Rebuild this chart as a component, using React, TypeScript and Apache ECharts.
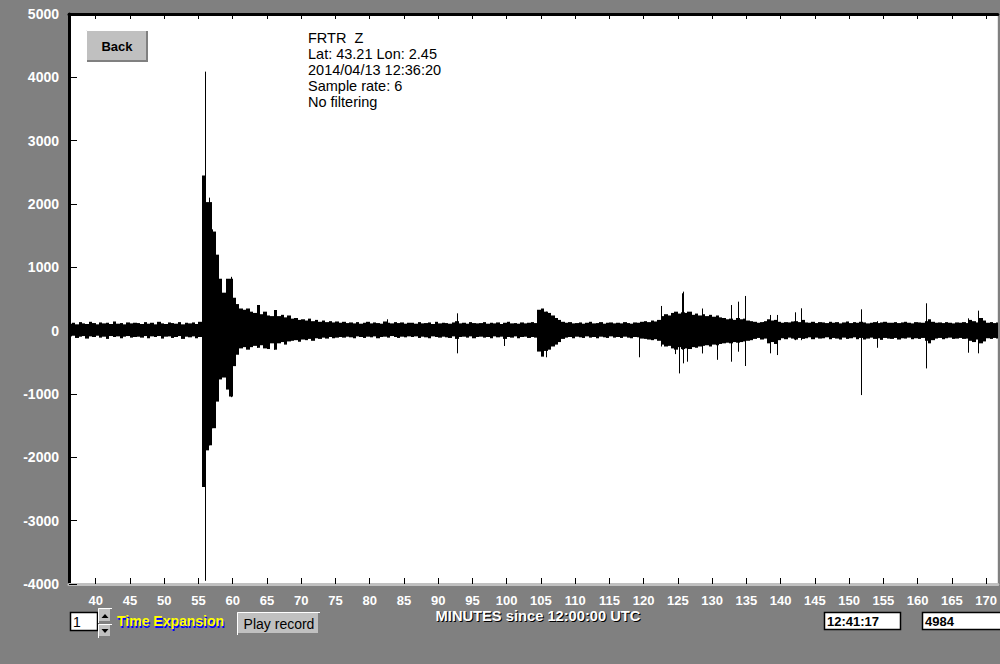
import React, { useEffect, useRef } from "react";
import * as echarts from "echarts";

// X axis: minutes since 12:00:00 UTC
const xTicks = [40, 45, 50, 55, 60, 65, 70, 75, 80, 85, 90, 95, 100, 105, 110, 115, 120, 125, 130, 135, 140, 145, 150, 155, 160, 165, 170];
const xMin = 36.11;
const xMax = 171.7;
const yMin = -4000;
const yMax = 5000;
const yStep = 1000;

// Trace envelope, read per half-minute bin (max / min counts in each bin)
const binStart = 36.0;
const binStep = 0.5;
const hi36 = [110, 125, 100, 135, 115, 105, 140, 120, 100, 130, 115, 125, 105, 145, 110, 120, 100, 130, 115, 125];
const lo36 = [-90, -80, -115, -95, -85, -125, -90, -100, -80, -110, -95, -130, -85, -100, -90, -120, -95, -85, -110, -100];
const hi46 = [120, 105, 135, 110, 125, 100, 140, 115, 105, 130, 120, 110, 135, 100, 125, 115, 130, 105, 140, 2450];
const lo46 = [-95, -110, -85, -120, -90, -100, -85, -125, -95, -90, -115, -100, -85, -130, -95, -105, -90, -120, -100, -2470];
const hi56 = [2030, 2030, 1565, 1200, 820, 600, 820, 820, 520, 420, 350, 330, 350, 300, 280, 405, 260, 300, 240, 230];
const lo56 = [-1890, -1810, -1540, -1120, -770, -740, -930, -1040, -560, -380, -280, -260, -300, -260, -240, -270, -230, -280, -290, -200];
const hi66 = [326, 230, 250, 210, 240, 190, 200, 170, 180, 160, 190, 150, 170, 140, 160, 135, 150, 130, 145, 125];
const lo66 = [-300, -200, -180, -220, -170, -160, -150, -175, -140, -150, -130, -160, -120, -130, -110, -125, -100, -120, -110, -100];
const hi76 = [140, 120, 130, 115, 135, 110, 125, 140, 115, 130, 120, 110, 145, 125, 115, 135, 120, 130, 110, 125];
const lo76 = [-110, -95, -105, -120, -90, -100, -115, -95, -105, -90, -120, -100, -95, -110, -85, -100, -115, -95, -105, -90];
const hi86 = [125, 110, 135, 115, 120, 130, 105, 140, 115, 125, 120, 110, 130, 150, 115, 125, 110, 135, 120, 115];
const lo86 = [-100, -90, -115, -95, -105, -120, -90, -100, -110, -95, -105, -115, -90, -130, -100, -95, -110, -90, -120, -100];
const hi96 = [120, 135, 110, 125, 115, 130, 105, 125, 140, 115, 120, 110, 130, 115, 125, 135, 120, 330, 350, 300];
const lo96 = [-95, -110, -100, -120, -90, -105, -95, -130, -100, -110, -90, -120, -100, -95, -115, -100, -110, -330, -410, -320];
const hi106 = [280, 240, 200, 170, 140, 125, 135, 115, 120, 130, 110, 125, 140, 115, 120, 135, 110, 125, 130, 115];
const lo106 = [-300, -250, -220, -180, -130, -110, -100, -120, -95, -105, -115, -90, -110, -100, -120, -95, -105, -115, -90, -110];
const hi116 = [125, 115, 135, 120, 110, 130, 125, 140, 150, 135, 160, 145, 170, 230, 260, 240, 280, 300, 270, 290];
const lo116 = [-100, -115, -95, -110, -120, -100, -105, -125, -130, -140, -150, -135, -160, -220, -250, -240, -280, -300, -260, -290];
const hi126 = [280, 300, 250, 270, 240, 260, 230, 250, 220, 240, 210, 200, 180, 190, 170, 200, 180, 190, 160, 150];
const lo126 = [-280, -290, -260, -270, -250, -240, -230, -250, -220, -230, -210, -200, -190, -200, -180, -190, -180, -170, -160, -150];
const hi136 = [140, 125, 135, 150, 180, 160, 170, 140, 125, 135, 130, 145, 150, 135, 170, 130, 125, 140, 120, 135];
const lo136 = [-130, -115, -140, -125, -200, -180, -210, -150, -120, -135, -110, -125, -140, -115, -130, -120, -105, -135, -110, -125];
const hi146 = [130, 120, 140, 125, 135, 115, 130, 145, 120, 135, 125, 140, 130, 115, 125, 135, 120, 130, 140, 125];
const lo146 = [-120, -105, -135, -115, -125, -140, -110, -130, -120, -105, -135, -115, -140, -125, -110, -130, -120, -145, -115, -125];
const hi156 = [125, 135, 120, 130, 140, 125, 115, 135, 130, 125, 150, 180, 140, 125, 130, 120, 135, 125, 115, 130];
const lo156 = [-130, -115, -140, -120, -125, -110, -135, -120, -130, -115, -160, -200, -150, -125, -115, -135, -120, -110, -130, -125];
const hi166 = [125, 135, 120, 170, 150, 130, 200, 160, 125, 135, 120, 130];
const lo166 = [-115, -130, -125, -160, -180, -140, -200, -170, -120, -130, -115, -125];

// Isolated spikes: [minute, max, min]
const spikes = [
  [55.9, 4090, -3950],
  [56.6, 2100, -1810],
  [57.05, 1600, -1540],
  [59.7, 850, -1050],
  [63.5, 405, -270],
  [66.1, 326, -300],
  [82.6, 180, -100],
  [92.8, 274, -358],
  [99.6, 110, -242],
  [105.7, 300, -420],
  [119.3, 110, -420],
  [122.6, 390, -250],
  [124.6, 250, -370],
  [125.2, 250, -675],
  [125.6, 590, -300],
  [125.8, 616, -516],
  [126.3, 300, -490],
  [128.5, 350, -360],
  [130.7, 200, -460],
  [132.7, 405, -490],
  [133.8, 458, -332],
  [134.8, 548, -558],
  [138.4, 248, -358],
  [139.4, 248, -385],
  [142.1, 290, -150],
  [143.0, 353, -150],
  [151.7, 337, -1017],
  [154.0, 150, -270],
  [161.2, 432, -596],
  [167.3, 195, -348],
  [168.8, 316, -358],
];

const infoLines = ["FRTR  Z", "Lat: 43.21 Lon: 2.45", "2014/04/13 12:36:20", "Sample rate: 6", "No filtering"];
const axisTitle = "MINUTES since 12:00:00 UTC";
const timeExpansionValue = "1";
const clockText = "12:41:17";
const counterText = "4984";

const FONT = "'Liberation Sans', Arial, sans-serif";

export default function App() {
  const ref = useRef<HTMLDivElement>(null);

  useEffect(() => {
    if (!ref.current) return;
    const chart = echarts.init(ref.current, undefined, { renderer: "svg" });

    const hiAll = [hi36, hi46, hi56, hi66, hi76, hi86, hi96, hi106, hi116, hi126, hi136, hi146, hi156, hi166].flat();
    const loAll = [lo36, lo46, lo56, lo66, lo76, lo86, lo96, lo106, lo116, lo126, lo136, lo146, lo156, lo166].flat();
    const binData = hiAll.map((h, i) => [binStart + i * binStep, h, loAll[i]]);

    const whiteLabel = {
      color: "#fff",
      fontWeight: "bold" as const,
      fontFamily: FONT,
      textShadowColor: "#000",
      textShadowOffsetX: 1,
      textShadowOffsetY: 1,
      textShadowBlur: 0,
    };

    const btn = (x: number, y: number, w: number, h: number) => [
      { type: "rect", shape: { x, y, width: w, height: h }, style: { fill: "#c0c0c0" } },
      { type: "polyline", shape: { points: [[x + 0.5, y + h], [x + 0.5, y + 0.5], [x + w, y + 0.5]] }, style: { stroke: "#fff", lineWidth: 1, fill: null } },
      { type: "polyline", shape: { points: [[x + 1, y + h - 1], [x + w - 1, y + h - 1], [x + w - 1, y + 1]] }, style: { stroke: "#808080", lineWidth: 2, fill: null } },
    ];

    const graphics: any[] = [
      // Back button
      ...btn(86, 30, 62, 32),
      { type: "text", x: 117, y: 46, style: { text: "Back", font: `bold 13px ${FONT}`, fill: "#000", textAlign: "center", textVerticalAlign: "middle" } },
      // info text
      ...infoLines.map((s, i) => ({
        type: "text", x: 308, y: 38 + i * 16,
        style: { text: s, font: `14.5px ${FONT}`, fill: "#000", textAlign: "left", textVerticalAlign: "middle" },
      })),
      // axis title
      { type: "text", x: 539, y: 617, style: { text: axisTitle, font: `bold 14.7px ${FONT}`, fill: "#000", textAlign: "center", textVerticalAlign: "middle" } },
      { type: "text", x: 538, y: 616, style: { text: axisTitle, font: `bold 14.7px ${FONT}`, fill: "#fff", textAlign: "center", textVerticalAlign: "middle" } },
      // time expansion box
      { type: "rect", shape: { x: 70.5, y: 612.5, width: 27, height: 18 }, style: { fill: "#fff", stroke: "#000", lineWidth: 1.5 } },
      { type: "text", x: 73, y: 622, style: { text: timeExpansionValue, font: `14px ${FONT}`, fill: "#000", textVerticalAlign: "middle" } },
      ...btn(98, 608, 14, 15),
      { type: "polygon", shape: { points: [[101.5, 618], [108.5, 618], [105, 614]] }, style: { fill: "#000" } },
      ...btn(98, 624, 14, 14),
      { type: "polygon", shape: { points: [[101.5, 629], [108.5, 629], [105, 633]] }, style: { fill: "#000" } },
      { type: "text", x: 118, y: 623, style: { text: "Time Expansion", font: `bold 14px ${FONT}`, fill: "#0000ff", textVerticalAlign: "middle" } },
      { type: "text", x: 117, y: 621, style: { text: "Time Expansion", font: `bold 14px ${FONT}`, fill: "#ffff00", textVerticalAlign: "middle" } },
      // play record
      ...btn(237, 612, 83, 23),
      { type: "text", x: 279, y: 624, style: { text: "Play record", font: `14px ${FONT}`, fill: "#000", textAlign: "center", textVerticalAlign: "middle" } },
      // clock box
      { type: "rect", shape: { x: 824.5, y: 612.5, width: 76, height: 17 }, style: { fill: "#fff", stroke: "#000", lineWidth: 1.5 } },
      { type: "text", x: 827, y: 621.5, style: { text: clockText, font: `bold 13px ${FONT}`, fill: "#000", textVerticalAlign: "middle" } },
      // counter box
      { type: "rect", shape: { x: 922.5, y: 612.5, width: 90, height: 17 }, style: { fill: "#fff", stroke: "#000", lineWidth: 1.5 } },
      { type: "text", x: 925, y: 621.5, style: { text: counterText, font: `bold 13px ${FONT}`, fill: "#000", textVerticalAlign: "middle" } },
    ];

    chart.setOption({
      animation: false,
      backgroundColor: "#808080",
      textStyle: { fontFamily: FONT },
      grid: { left: 69, right: 0, top: 14, bottom: 80, show: true, backgroundColor: "#fff", borderWidth: 0 },
      xAxis: [
        {
          type: "value",
          min: xMin,
          max: xMax,
          position: "bottom",
          axisLine: { show: true, onZero: false, lineStyle: { color: "#c0c0c0", width: 3 } },
          axisTick: { show: true, inside: true, length: 6, customValues: xTicks, lineStyle: { color: "#000", width: 1 } },
          axisLabel: { ...whiteLabel, fontSize: 13, margin: 10, customValues: xTicks, hideOverlap: false, formatter: (v: number) => String(v) },
          splitLine: { show: false },
        },
        {
          type: "value",
          min: xMin,
          max: xMax,
          position: "top",
          axisLine: { show: true, onZero: false, lineStyle: { color: "#000", width: 3 } },
          axisTick: { show: true, inside: true, length: 5, customValues: xTicks, lineStyle: { color: "#000", width: 1 } },
          axisLabel: { show: false },
          splitLine: { show: false },
        },
      ],
      yAxis: {
        type: "value",
        min: yMin,
        max: yMax,
        interval: yStep,
        axisLine: { show: true, onZero: false, lineStyle: { color: "#000", width: 3 } },
        axisTick: { show: true, inside: true, length: 8, lineStyle: { color: "#000", width: 1 } },
        axisLabel: { ...whiteLabel, fontSize: 14, margin: 10, formatter: (v: number) => String(v) },
        splitLine: { show: false },
      },
      series: [
        {
          type: "custom",
          name: "envelope",
          xAxisIndex: 0,
          clip: true,
          data: binData,
          encode: { x: 0, y: [1, 2] },
          renderItem: (_p: any, api: any) => {
            const t = api.value(0);
            const a = api.coord([t, api.value(1)]);
            const b = api.coord([t + binStep, api.value(2)]);
            const x0 = Math.round(a[0]);
            const x1 = Math.round(b[0]);
            return {
              type: "rect",
              shape: { x: x0, y: a[1], width: Math.max(1, x1 - x0), height: b[1] - a[1] },
              style: { fill: "#000" },
            };
          },
        },
        {
          type: "custom",
          name: "spikes",
          xAxisIndex: 0,
          clip: true,
          data: spikes,
          encode: { x: 0, y: [1, 2] },
          renderItem: (_p: any, api: any) => {
            const t = api.value(0);
            const a = api.coord([t, api.value(1)]);
            const b = api.coord([t, api.value(2)]);
            const x = Math.round(a[0]) + 0.5;
            return {
              type: "line",
              shape: { x1: x, y1: a[1], x2: x, y2: b[1] },
              style: { stroke: "#000", lineWidth: 1 },
            };
          },
        },
      ],
      graphic: graphics,
    });

    return () => chart.dispose();
  }, []);

  return <div ref={ref} style={{ position: "absolute", left: 0, top: 0, width: 1000, height: 664 }} />;
}
